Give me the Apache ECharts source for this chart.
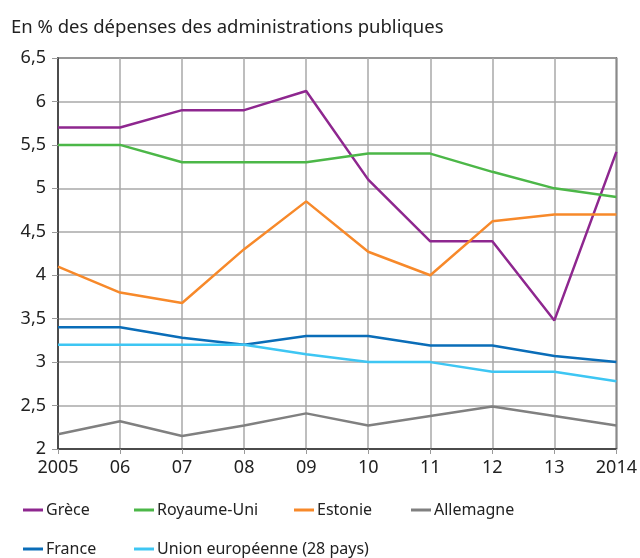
<!DOCTYPE html>
<html>
<head>
<meta charset="utf-8">
<script src="https://cdn.jsdelivr.net/npm/echarts@6/dist/echarts.min.js"></script>
<style>
  html, body { margin: 0; padding: 0; background: #fff; }
  #chart { width: 640px; height: 558px; }
</style>
</head>
<body>
<div id="chart"></div>
<script>
const years = ['2005', '06', '07', '08', '09', '10', '11', '12', '13', '2014'];
const grece = [5.7, 5.7, 5.9, 5.9, 6.12, 5.1, 4.39, 4.39, 3.48, 5.42];
const royaumeUni = [5.5, 5.5, 5.3, 5.3, 5.3, 5.4, 5.4, 5.19, 5.0, 4.9];
const estonie = [4.1, 3.8, 3.68, 4.3, 4.85, 4.27, 4.0, 4.62, 4.7, 4.7];
const allemagne = [2.17, 2.32, 2.15, 2.27, 2.41, 2.27, 2.38, 2.49, 2.38, 2.27];
const france = [3.4, 3.4, 3.28, 3.2, 3.3, 3.3, 3.19, 3.19, 3.07, 3.0];
const ue = [3.2, 3.2, 3.2, 3.2, 3.09, 3.0, 3.0, 2.89, 2.89, 2.78];

const seriesDefs = [
  { name: 'Grèce', data: grece, color: '#8e278f' },
  { name: 'Royaume-Uni', data: royaumeUni, color: '#4cb748' },
  { name: 'Estonie', data: estonie, color: '#f7892a' },
  { name: 'Allemagne', data: allemagne, color: '#808080' },
  { name: 'France', data: france, color: '#0a6db8' },
  { name: 'Union européenne (28 pays)', data: ue, color: '#3ec6f3' }
];

// legend positions (left, top) for each item
const legendPos = [[18, 497], [129, 497], [289, 497], [406, 497], [18, 536], [129, 536]];

const font = 'Noto Sans';
const chart = echarts.init(document.getElementById('chart'));
chart.setOption({
  animation: false,
  textStyle: { fontFamily: font },
  title: {
    text: 'En % des dépenses des administrations publiques',
    left: 6, top: 13,
    textStyle: { fontSize: 18.5, fontWeight: 'normal', color: '#222', fontFamily: font }
  },
  legend: seriesDefs.map((s, i) => ({
    data: [s.name],
    left: legendPos[i][0], top: legendPos[i][1],
    icon: 'rect', itemWidth: 20, itemHeight: 3, itemGap: 4,
    textStyle: { fontSize: 16, color: '#222', fontFamily: font, padding: [0, 0, 0, -2] }
  })),
  grid: {
    left: 58, right: 23, top: 58, bottom: 109,
    show: true, borderColor: '#333', borderWidth: 1.5
  },
  xAxis: {
    type: 'category', data: years, boundaryGap: false,
    axisLine: { lineStyle: { color: '#333', width: 1.5 } },
    axisTick: { show: true, length: 5, lineStyle: { color: '#999' } },
    axisLabel: { fontSize: 18, color: '#222', margin: 10 },
    splitLine: { show: true, lineStyle: { color: '#a8a8a8', width: 1.5 } }
  },
  yAxis: {
    type: 'value', min: 2, max: 6.5, interval: 0.5,
    axisLine: { show: true, lineStyle: { color: '#333', width: 1.5 } },
    axisTick: { show: true, length: 6, lineStyle: { color: '#999' } },
    axisLabel: {
      fontSize: 18, color: '#222', margin: 12,
      formatter: v => String(v).replace('.', ',')
    },
    splitLine: { show: true, lineStyle: { color: '#a8a8a8', width: 1.5 } }
  },
  series: seriesDefs.map(s => ({
    name: s.name, type: 'line', data: s.data,
    symbol: 'none', color: s.color,
    lineStyle: { width: 2.5, color: s.color }
  }))
});
</script>
</body>
</html>
